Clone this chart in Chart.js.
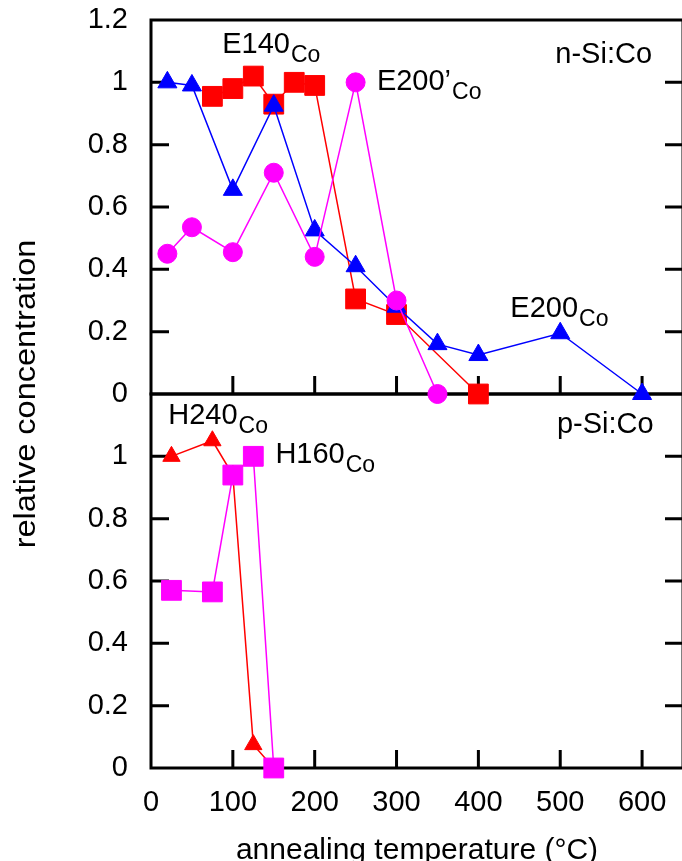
<!DOCTYPE html>
<html>
<head>
<meta charset="utf-8">
<title>Co defect annealing</title>
<script src="https://cdn.jsdelivr.net/npm/chart.js@4.4.0/dist/chart.umd.min.js"></script>
<style>
  html, body { margin: 0; padding: 0; overflow: hidden; background: #fff; }
  #wrap { position: relative; width: 700px; height: 880px; }
</style>
</head>
<body>
<div id="wrap"><canvas id="chart" width="700" height="880"></canvas></div>
<script>
// upper panel: n-Si:Co levels
const nTempE140 = [75, 100, 125, 150, 175, 200, 250, 300, 400];
const nConcE140 = [0.955, 0.98, 1.02, 0.93, 1.0, 0.99, 0.305, 0.255, 0];
const nTempE200 = [20, 50, 100, 150, 200, 250, 300, 350, 400, 500, 600];
const nConcE200 = [1.0, 0.99, 0.655, 0.925, 0.525, 0.41, 0.28, 0.16, 0.125, 0.195, 0];
const nTempE200p = [20, 50, 100, 150, 200, 250, 300, 350];
const nConcE200p = [0.45, 0.535, 0.455, 0.71, 0.44, 1.0, 0.30, 0];

// lower panel: p-Si:Co levels
const pTempH240 = [25, 75, 100, 125, 150];
const pConcH240 = [1.0, 1.05, 0.94, 0.075, 0];
const pTempH160 = [25, 75, 100, 125, 150];
const pConcH160 = [0.57, 0.565, 0.94, 1.0, 0];

const xTicks = [0, 100, 200, 300, 400, 500, 600];
const yTicks = [0, 0.2, 0.4, 0.6, 0.8, 1.0, 1.2];

// text labels placed in data coordinates of their panel
const notes = [
  { axis: 'yTop', x: 87,  y: 1.094, text: 'E140',  sub: 'Co' },
  { axis: 'yTop', x: 276, y: 0.975, text: 'E200\u2019', sub: 'Co' },
  { axis: 'yTop', x: 494, y: 1.062, text: 'n-Si:Co' },
  { axis: 'yTop', x: 439, y: 0.247, text: 'E200',  sub: 'Co' },
  { axis: 'yBot', x: 21,  y: 1.104, text: 'H240',  sub: 'Co' },
  { axis: 'yBot', x: 496, y: 1.075, text: 'p-Si:Co' },
  { axis: 'yBot', x: 152, y: 0.979, text: 'H160',  sub: 'Co' }
];

const FONT = 'Liberation Sans, Arial, Helvetica, sans-serif';
const RED = '#ff0000', BLUE = '#0000ff', MAGENTA = '#ff00ff';

function pairs(xs, ys) {
  return xs.map((x, i) => ({ x: x, y: ys[i] }));
}

function series(data, axis, color, style, radius, order) {
  return {
    data: data,
    yAxisID: axis,
    borderColor: color,
    backgroundColor: color,
    borderWidth: 1.5,
    pointStyle: style,
    pointRadius: radius,
    pointHoverRadius: radius,
    pointBorderWidth: 1,
    order: order,
    clip: false
  };
}

// frame and inward tick marks for both panels
const framePlugin = {
  id: 'frame',
  beforeDatasetsDraw(chart) {
    const ctx = chart.ctx;
    const xs = chart.scales.x;
    const left = chart.chartArea.left, right = chart.chartArea.right;
    const tl = 18;
    ctx.save();
    ctx.strokeStyle = '#000';
    ctx.lineWidth = 3;
    ['yTop', 'yBot'].forEach(id => {
      const ys = chart.scales[id];
      ctx.strokeRect(left, ys.top, right - left, ys.bottom - ys.top);
      ctx.beginPath();
      yTicks.forEach(v => {
        if (v <= 0 || v >= 1.2) return;
        const py = ys.getPixelForValue(v);
        ctx.moveTo(left, py); ctx.lineTo(left + tl, py);
        ctx.moveTo(right, py); ctx.lineTo(right - tl, py);
      });
      xTicks.forEach(v => {
        if (v <= 0) return;
        const px = xs.getPixelForValue(v);
        ctx.moveTo(px, ys.bottom); ctx.lineTo(px, ys.bottom - tl);
      });
      ctx.stroke();
    });
    ctx.restore();
  },
  afterDraw(chart) {
    const ctx = chart.ctx;
    const xs = chart.scales.x;
    ctx.save();
    ctx.fillStyle = '#000';
    ctx.textBaseline = 'alphabetic';
    ctx.textAlign = 'left';
    notes.forEach(n => {
      const px = xs.getPixelForValue(n.x);
      const py = chart.scales[n.axis].getPixelForValue(n.y);
      ctx.font = '29px ' + FONT;
      ctx.fillText(n.text, px, py);
      if (n.sub) {
        const w = ctx.measureText(n.text).width;
        ctx.font = '23px ' + FONT;
        ctx.fillText(n.sub, px + w + 1, py + 9);
      }
    });
    // shared y-axis title spanning both panels
    const top = chart.scales.yTop.top, bottom = chart.scales.yBot.bottom;
    ctx.translate(27, (top + bottom) / 2);
    ctx.rotate(-Math.PI / 2);
    ctx.scale(1.12, 1);
    ctx.font = '29px ' + FONT;
    ctx.textAlign = 'center';
    ctx.textBaseline = 'middle';
    ctx.fillText('relative concentration', 0, 0);
    ctx.restore();
  }
};

function yAxis(weight, hideTop) {
  return {
    type: 'linear',
    position: 'left',
    stack: 'panels',
    stackWeight: 1,
    weight: weight,
    min: 0,
    max: 1.2,
    afterBuildTicks: s => { s.ticks = yTicks.map(v => ({ value: v })); },
    afterFit: s => { s.width = 151; s.paddingTop = 0; s.paddingBottom = 0; },
    grid: { display: false },
    border: { display: false },
    ticks: {
      color: '#000',
      autoSkip: false,
      font: { family: FONT, size: 29 },
      padding: 15,
      callback: v => (hideTop && v > 1.1) ? '' : String(Math.round(v * 10) / 10)
    }
  };
}

new Chart(document.getElementById('chart'), {
  type: 'line',
  data: {
    datasets: [
      series(pairs(nTempE140, nConcE140), 'yTop', RED, 'rect', 14, 3),
      series(pairs(nTempE200, nConcE200), 'yTop', BLUE, 'triangle', 11, 2),
      series(pairs(nTempE200p, nConcE200p), 'yTop', MAGENTA, 'circle', 9.5, 1),
      series(pairs(pTempH240, pConcH240), 'yBot', RED, 'triangle', 10, 2),
      series(pairs(pTempH160, pConcH160), 'yBot', MAGENTA, 'rect', 14, 1)
    ]
  },
  options: {
    responsive: false,
    animation: false,
    layout: { padding: { left: 0, top: 20, right: 17, bottom: 0 } },
    plugins: { legend: { display: false }, tooltip: { enabled: false } },
    scales: {
      x: {
        type: 'linear',
        position: 'bottom',
        min: 0,
        max: 650,
        afterBuildTicks: s => { s.ticks = xTicks.map(v => ({ value: v })); },
        afterFit: s => { s.height = 112; s.paddingLeft = 0; s.paddingRight = 0; },
        grid: { display: false },
        border: { display: false },
        ticks: {
          color: '#000',
          autoSkip: false,
          font: { family: FONT, size: 29 },
          padding: 10,
          maxRotation: 0
        },
        title: {
          display: true,
          text: 'annealing temperature (\u00B0C)',
          color: '#000',
          font: { family: FONT, size: 30 },
          padding: { top: 0, bottom: 11 }
        }
      },
      yBot: yAxis(1, true),
      yTop: yAxis(2, false)
    }
  },
  plugins: [framePlugin]
});
</script>
</body>
</html>
